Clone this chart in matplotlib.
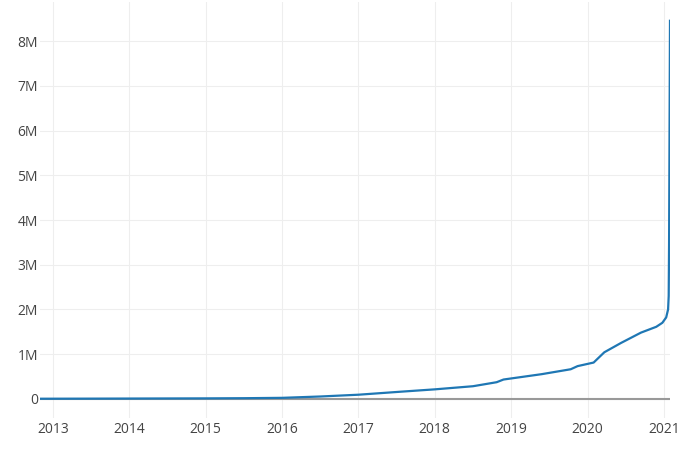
import matplotlib.pyplot as plt
from matplotlib.ticker import FuncFormatter

# decimal years and cumulative values (millions)
years = [2012.83, 2013.5, 2014.0, 2014.5, 2015.0, 2015.5, 2016.0, 2016.5,
         2017.0, 2017.55, 2018.0, 2018.5, 2018.81, 2018.9, 2019.4, 2019.78,
         2019.87, 2020.08, 2020.22, 2020.44, 2020.7, 2020.9, 2020.98,
         2021.03, 2021.055, 2021.063, 2021.068, 2021.074, 2021.08]
values_m = [0.0, 0.002, 0.004, 0.006, 0.008, 0.012, 0.02, 0.05,
            0.09, 0.157, 0.21, 0.28, 0.37, 0.43, 0.55, 0.66,
            0.73, 0.81, 1.04, 1.25, 1.48, 1.61, 1.7,
            1.82, 2.0, 2.3, 3.5, 6.0, 8.46]
year_ticks = list(range(2013, 2022))
y_ticks_m = list(range(0, 9))

plt.rcParams['font.family'] = ['Open Sans', 'DejaVu Sans']

fig = plt.figure(figsize=(7, 4.5), dpi=100)
ax = fig.add_axes([40 / 700, 1 - 417.5 / 450, 630 / 700, 415.5 / 450])

ax.plot(years, [v * 1e6 for v in values_m], color='#1f77b4', lw=1.6, zorder=3)
ax.axhline(0, color='#999999', lw=1.5, zorder=2)

ax.set_xlim(2012.83, 2021.08)
ax.set_ylim(-0.42e6, 8.88e6)
ax.set_xticks(year_ticks)
ax.set_yticks([v * 1e6 for v in y_ticks_m])
ax.yaxis.set_major_formatter(FuncFormatter(lambda v, p: '0' if v == 0 else f'{v / 1e6:.0f}M'))

ax.grid(True, color='#eeeeee', lw=0.8, zorder=0)
for s in ax.spines.values():
    s.set_visible(False)
ax.tick_params(length=0, labelsize=10, colors='#444444')
ax.tick_params(axis='x', pad=3)
ax.tick_params(axis='y', pad=1.5)

fig.savefig('out.png', dpi=100)
